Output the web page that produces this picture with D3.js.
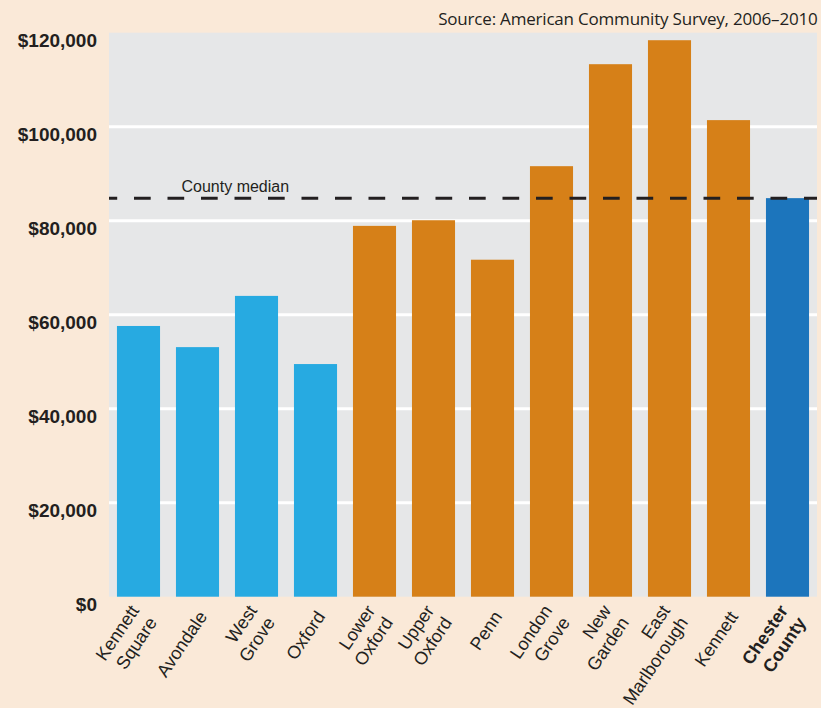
<!DOCTYPE html>
<html>
<head>
<meta charset="utf-8">
<script src="https://cdn.jsdelivr.net/npm/d3@7"></script>
<style>
  html, body { margin: 0; padding: 0; background: #fae9d8; }
  svg { display: block; }
</style>
</head>
<body>
<div id="graph"></div>
<script>
// median household income by municipality
const places = [
  ["Kennett", "Square"], ["Avondale"], ["West", "Grove"], ["Oxford"],
  ["Lower", "Oxford"], ["Upper", "Oxford"], ["Penn"], ["London", "Grove"],
  ["New", "Garden"], ["East", "Marlborough"], ["Kennett"], ["Chester", "County"]
];
const incomes = [57600, 53100, 64000, 49500, 78900, 80100, 71700, 91600, 113300, 118400, 101400, 84800];
const kinds = ["borough", "borough", "borough", "borough",
  "township", "township", "township", "township", "township", "township", "township", "county"];
const countyMedian = 84800;
const yTicks = [0, 20000, 40000, 60000, 80000, 100000, 120000];
const sourceNote = "Source: American Community Survey, 2006\u20132010";

const W = 821, H = 708;
const plot = {left: 109, right: 817, top: 32.7, bottom: 596.7};
const ink = "#231f20";
const colour = {borough: "#27aae1", township: "#d68018", county: "#1c75bc"};

const svg = d3.select("#graph").append("svg")
  .attr("width", W)
  .attr("height", H);

svg.append("rect").attr("width", W).attr("height", H).attr("fill", "#fae9d8");

const x = d3.scaleBand()
  .domain(d3.range(places.length))
  .range([plot.left, plot.right])
  .paddingInner(0.27)
  .paddingOuter(0.135);

const y = d3.scaleLinear()
  .domain([0, 120000])
  .range([plot.bottom, plot.top]);

// grey panel
svg.append("rect")
  .attr("x", plot.left)
  .attr("y", plot.top)
  .attr("width", plot.right - plot.left)
  .attr("height", plot.bottom - plot.top)
  .attr("fill", "#e6e7e8");

// white gridlines
svg.selectAll(".grid")
  .data(yTicks.filter(d => d > 0 && d < 120000))
  .enter().append("line")
  .attr("class", "grid")
  .attr("x1", plot.left).attr("x2", plot.right)
  .attr("y1", d => y(d)).attr("y2", d => y(d))
  .attr("stroke", "#fff")
  .attr("stroke-width", 3);

// y labels hang just below their gridline
const yAxis = d3.axisLeft(y)
  .tickValues(yTicks)
  .tickSize(0)
  .tickPadding(12)
  .tickFormat(d => "$" + d3.format(",")(d));

const ya = svg.append("g")
  .attr("transform", `translate(${plot.left},0)`)
  .call(yAxis);
ya.select(".domain").remove();
ya.selectAll("text")
  .attr("dy", "0.72em")
  .attr("fill", ink)
  .style("font-family", "'Liberation Sans', Arial, sans-serif")
  .style("font-size", "19px")
  .style("font-weight", "bold");

// bars
svg.selectAll(".bar")
  .data(incomes)
  .enter().append("rect")
  .attr("class", "bar")
  .attr("x", (d, i) => x(i))
  .attr("width", x.bandwidth())
  .attr("y", d => y(d))
  .attr("height", d => y(0) - y(d))
  .attr("fill", (d, i) => colour[kinds[i]]);

// county median line
svg.append("line")
  .attr("x1", plot.left).attr("x2", plot.right)
  .attr("y1", y(countyMedian)).attr("y2", y(countyMedian))
  .attr("stroke", ink)
  .attr("stroke-width", 3)
  .attr("stroke-dasharray", "16.7,16.8")
  .attr("stroke-dashoffset", 8.5);

svg.append("text")
  .attr("x", 181.5)
  .attr("y", y(countyMedian) - 6.5)
  .attr("fill", ink)
  .style("font-family", "'Liberation Sans', Arial, sans-serif")
  .style("font-size", "16px")
  .text("County median");

// rotated category labels
const lbl = svg.selectAll(".lbl")
  .data(places)
  .enter().append("text")
  .attr("class", "lbl")
  .attr("transform", (d, i) => `translate(${x(i) + x.bandwidth() / 2 + 5},613) rotate(-56)`)
  .attr("text-anchor", "end")
  .attr("fill", ink)
  .style("font-family", "'Liberation Sans', Arial, sans-serif")
  .style("font-size", "18px")
  .style("font-weight", (d, i) => kinds[i] == "county" ? "bold" : "normal");

lbl.selectAll("tspan")
  .data(d => d.map(t => ({t: t, n: d.length})))
  .enter().append("tspan")
  .attr("x", 0)
  .attr("dy", (d, j) => j == 0 ? (0.35 - (d.n - 1) * 0.6) + "em" : "1.2em")
  .text(d => d.t);

// source note
svg.append("text")
  .attr("x", 817.5)
  .attr("y", 25)
  .attr("text-anchor", "end")
  .attr("fill", ink)
  .style("font-family", "'Open Sans', 'Noto Sans', sans-serif")
  .style("font-size", "17px")
  .style("letter-spacing", "-0.2px")
  .text(sourceNote);
</script>
</body>
</html>
